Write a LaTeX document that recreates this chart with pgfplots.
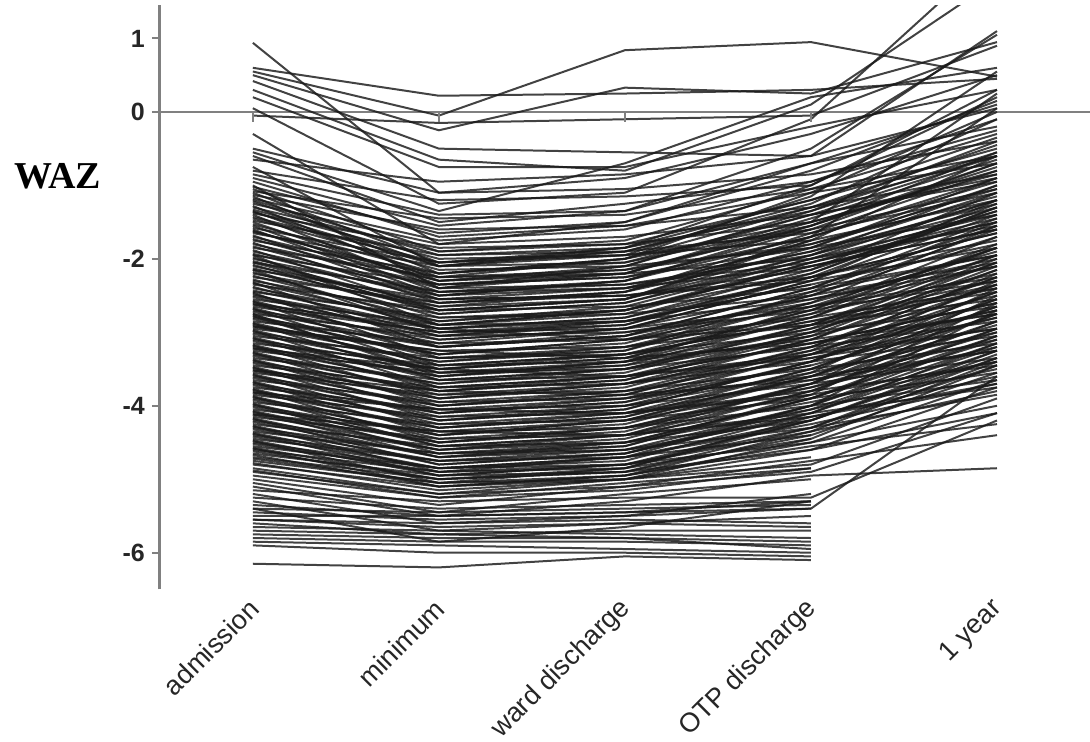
\documentclass[border=0pt]{standalone}
\usepackage{pgfplots}
\usepackage{pgfplotstable}
\pgfplotsset{compat=1.18}
\usepackage{fontspec}
\setmainfont{Liberation Sans}
\newfontfamily\timesfont{Liberation Serif}

% one row per child: admission, minimum, ward discharge, OTP discharge, 1 year
\pgfplotstableread{
a m w o y
0.94 -1.10 -0.90 -0.30 0.50
0.60 0.22 0.25 0.30 0.45
0.55 -0.05 0.84 0.95 0.48
0.50 -0.25 0.33 0.25 0.95
0.42 -0.50 -0.55 -0.60 1.10
0.30 -0.65 -0.80 0.10 1.80
0.20 -0.75 -0.75 -0.20 0.30
0.05 -1.25 -1.10 -0.10 2.20
-0.05 -0.15 -0.10 -0.05 0.90
-0.30 -1.80 -1.50 -0.70 0.10
-0.50 -1.10 -1.05 -0.85 -0.40
-0.55 -1.35 -0.70 0.20 0.60
-0.60 -1.50 -1.25 -0.95 -0.10
-0.75 -2.10 -1.90 -1.30 -0.60
-0.80 -1.20 -1.15 -1.00 0.30
-0.85 -1.40 -1.35 -0.70 -0.20
-0.95 -1.70 -1.55 -1.10 -0.70
-0.65 -0.95 -0.85 -0.60 0.05
-1.00 -2.40 -2.10 -1.40 -0.90
-0.90 -1.55 -1.35 -0.50 1.05
-1.36 -2.10 -1.95 -1.15 0.55
-1.62 -2.30 -2.20 -1.50 0.25
-2.05 -2.70 -2.55 -1.70 0.05
-1.02 -1.65 -1.50 -0.80 0.15
-1.05 -1.90 -1.80 -1.20 -0.35
-1.08 -1.45 -1.40 -1.05 -0.60
-1.10 -2.05 -1.85 -1.00 0.20
-1.13 -1.60 -1.55 -1.30 -0.85
-1.15 -2.20 -2.05 -1.55 -0.70
-1.18 -1.75 -1.60 -0.95 -0.25
-1.20 -1.95 -1.90 -1.65 -1.10
-1.22 -2.10 -1.85 -1.20 -0.50
-1.25 -1.80 -1.70 -1.40 -0.95
-1.28 -2.30 -2.15 -1.60 nan
-1.30 -1.90 -1.75 -1.05 -0.30
-1.33 -2.00 -1.95 -1.75 -1.20
-1.35 -2.25 -2.00 -1.30 -0.45
-1.38 -1.85 -1.80 -1.50 -0.80
-1.40 -2.40 -2.20 -1.45 -0.65
-1.43 -2.05 -1.90 -1.25 -0.10
-1.45 -2.15 -2.10 -1.85 -1.40
-1.48 -1.95 -1.85 -1.35 -0.55
-1.50 -2.35 -2.25 -1.70 -0.90
-1.53 -2.20 -2.00 -1.10 0.00
-1.55 -2.45 -2.35 -1.95 -1.30
-1.58 -2.05 -1.95 -1.60 -1.05
-1.60 -2.50 -2.30 -1.55 -0.75
-1.63 -2.25 -2.15 -1.80 -1.15
-1.65 -2.10 -2.05 -1.40 -0.60
-1.68 -2.55 -2.40 -1.90 -1.25
-1.70 -2.30 -2.10 -1.35 -0.40
-1.73 -2.40 -2.35 -2.05 -1.50
-1.75 -2.20 -2.00 -1.50 -0.85
-1.78 -2.60 -2.45 -1.75 nan
-1.80 -2.35 -2.25 -1.85 -1.00
-1.83 -2.50 -2.30 -1.60 -0.70
-1.85 -2.25 -2.20 -2.00 -1.55
-1.88 -2.70 -2.55 -1.95 -1.20
-1.90 -2.45 -2.30 -1.70 -0.95
-1.93 -2.55 -2.50 -2.15 -1.35
-1.95 -2.35 -2.20 -1.55 -0.55
-1.98 -2.75 -2.60 -2.00 -1.40
-2.00 -2.50 -2.40 -1.80 -1.05
-2.03 -2.65 -2.45 -1.65 -0.80
-2.05 -2.45 -2.40 -2.10 -1.60
-2.08 -2.80 -2.70 -2.20 -1.30
-2.10 -2.60 -2.45 -1.90 -1.10
-2.13 -2.70 -2.55 -1.75 -0.60
-2.15 -2.55 -2.50 -2.25 -1.75
-2.18 -2.90 -2.75 -2.05 -1.45
-2.20 -2.65 -2.55 -1.85 -0.90
-2.23 -2.85 -2.65 -2.00 -1.20
-2.25 -2.60 -2.50 -2.30 -1.85
-2.28 -2.95 -2.85 -2.35 nan
-2.30 -2.75 -2.60 -1.95 -1.00
-2.33 -2.90 -2.70 -2.10 -1.50
-2.35 -2.70 -2.65 -2.40 -1.95
-2.38 -3.05 -2.90 -2.20 -1.25
-2.40 -2.85 -2.70 -2.05 -1.35
-2.43 -2.95 -2.80 -2.25 -1.65
-2.45 -2.80 -2.75 -2.50 -2.05
-2.48 -3.10 -2.95 -2.30 -1.40
-2.50 -2.95 -2.80 -2.15 -1.10
-2.52 -3.05 -2.85 -2.35 -1.80
-2.55 -2.90 -2.85 -2.55 -2.10
-2.57 -3.20 -3.05 -2.40 -1.55
-2.60 -3.00 -2.90 -2.25 -1.30
-2.62 -3.15 -2.95 -2.45 -1.95
-2.65 -3.00 -2.95 -2.65 -2.25
-2.67 -3.30 -3.10 -2.50 -1.70
-2.70 -3.10 -2.95 -2.30 -1.20
-2.72 -3.20 -3.05 -2.55 -2.00
-2.75 -3.05 -3.00 -2.70 -2.30
-2.77 -3.35 -3.20 -2.60 nan
-2.80 -3.20 -3.05 -2.40 -1.45
-2.82 -3.30 -3.10 -2.65 -2.10
-2.85 -3.15 -3.10 -2.80 -2.40
-2.87 -3.45 -3.30 -2.70 -1.85
-2.90 -3.30 -3.15 -2.50 -1.60
-2.92 -3.40 -3.20 -2.75 -2.20
-2.95 -3.25 -3.20 -2.90 -2.55
-2.97 -3.55 -3.40 -2.80 -1.95
-3.00 -3.40 -3.25 -2.60 -1.55
-3.02 -3.50 -3.30 -2.85 -2.30
-3.05 -3.35 -3.30 -3.00 -2.65
-3.07 -3.65 -3.50 -2.90 -2.05
-3.10 -3.50 -3.35 -2.70 -1.70
-3.12 -3.60 -3.40 -2.95 -2.40
-3.15 -3.45 -3.40 -3.10 -2.75
-3.17 -3.75 -3.60 -3.00 -2.15
-3.20 -3.60 -3.45 -2.80 -1.85
-3.22 -3.70 -3.50 -3.05 nan
-3.25 -3.55 -3.50 -3.20 -2.85
-3.27 -3.85 -3.70 -3.10 -2.25
-3.30 -3.70 -3.55 -2.90 -1.95
-3.32 -3.80 -3.60 -3.15 -2.60
-3.35 -3.65 -3.60 -3.30 -2.95
-3.37 -3.95 -3.80 -3.20 -2.35
-3.40 -3.80 -3.65 -3.00 -2.05
-3.42 -3.90 -3.70 -3.25 -2.70
-3.45 -3.75 -3.70 -3.40 -3.05
-3.47 -4.05 -3.90 -3.30 -2.45
-3.50 -3.90 -3.75 -3.10 -2.15
-3.52 -4.00 -3.80 -3.35 -2.80
-3.55 -3.85 -3.80 -3.50 -3.15
-3.57 -4.15 -4.00 -3.40 -2.55
-3.60 -4.00 -3.85 -3.20 -2.25
-3.62 -4.10 -3.90 -3.45 nan
-3.65 -3.95 -3.90 -3.60 -3.25
-3.67 -4.25 -4.10 -3.50 -2.65
-3.70 -4.10 -3.95 -3.30 -2.35
-3.72 -4.20 -4.00 -3.55 -3.00
-3.75 -4.05 -4.00 -3.70 -3.35
-3.77 -4.35 -4.20 -3.60 -2.75
-3.80 -4.20 -4.05 -3.40 -2.45
-3.82 -4.30 -4.10 -3.65 -3.10
-3.85 -4.15 -4.10 -3.80 -3.45
-3.87 -4.45 -4.30 -3.70 -2.85
-3.90 -4.30 -4.15 -3.50 -2.55
-3.92 -4.40 -4.20 -3.75 -3.20
-3.95 -4.25 -4.20 -3.90 -3.55
-3.97 -4.55 -4.40 -3.80 -2.95
-4.00 -4.40 -4.25 -3.60 -2.65
-4.02 -4.50 -4.30 -3.85 nan
-4.05 -4.35 -4.30 -4.00 -3.65
-4.07 -4.60 -4.50 -3.90 -3.05
-4.10 -4.50 -4.35 -3.70 -2.75
-4.12 -4.60 -4.40 -3.95 -3.40
-4.15 -4.45 -4.40 -4.10 -3.75
-4.17 -4.70 -4.60 -4.00 -3.15
-4.20 -4.60 -4.45 -3.80 -2.85
-4.22 -4.70 -4.50 -4.05 -3.50
-4.25 -4.55 -4.50 -4.20 nan
-4.27 -4.80 -4.65 -4.10 -3.25
-4.30 -4.65 -4.55 -3.90 -2.95
-4.32 -4.75 -4.60 -4.15 -3.60
-4.35 -4.65 -4.60 -4.30 -3.85
-4.37 -4.85 -4.70 -4.20 -3.35
-4.40 -4.75 -4.65 -4.00 -3.05
-4.42 -4.85 -4.70 -4.25 -3.70
-4.45 -4.75 -4.70 -4.40 nan
-4.47 -4.95 -4.80 -4.30 -3.45
-4.50 -4.85 -4.75 -4.10 -3.15
-4.52 -4.90 -4.80 -4.35 -3.80
-4.55 -4.85 -4.80 -4.50 -4.00
-4.57 -5.00 -4.90 -4.40 -3.55
-4.60 -4.90 -4.85 -4.20 -3.25
-4.62 -5.00 -4.85 -4.45 nan
-4.65 -4.95 -4.90 -4.60 -4.10
-4.67 -5.10 -4.95 -4.50 -3.65
-4.70 -5.00 -4.90 -4.30 -3.35
-4.72 -5.05 -4.95 -4.55 -4.25
-4.75 -5.05 -5.00 -4.70 nan
-4.78 -5.15 -5.00 -4.60 -3.75
-4.80 -5.10 -5.00 -4.45 -3.45
-4.85 -5.20 -5.10 -4.75 -4.40
-4.88 -5.25 -5.15 -4.85 nan
-2.32 -3.20 -3.00 -2.60 -1.90
-2.46 -3.35 -3.25 -2.45 -1.50
-2.58 -3.45 -3.30 -2.85 -2.45
-2.68 -3.50 -3.35 -2.75 -1.80
-2.78 -3.55 -3.45 -3.05 -2.50
-2.88 -3.65 -3.50 -2.95 -2.00
-2.98 -3.75 -3.60 -3.15 -2.60
-3.08 -3.80 -3.65 -3.05 -2.10
-3.18 -3.90 -3.70 -3.30 -2.70
-3.28 -4.00 -3.85 -3.25 -2.20
-3.38 -4.10 -3.95 -3.45 -2.80
-3.48 -4.20 -4.05 -3.40 -2.30
-3.58 -4.30 -4.15 -3.60 -2.90
-3.68 -4.40 -4.20 -3.55 -2.40
-3.78 -4.50 -4.30 -3.75 -3.00
-3.88 -4.55 -4.40 -3.70 -2.50
-3.98 -4.65 -4.50 -3.90 -3.10
-4.08 -4.70 -4.55 -3.85 -2.60
-4.18 -4.80 -4.65 -4.05 -3.20
-4.28 -4.90 -4.70 -4.00 -2.70
-4.38 -4.95 -4.80 -4.20 -3.30
-4.48 -5.05 -4.85 -4.15 nan
-4.58 -5.10 -4.95 -4.35 -3.40
-2.62 -2.95 -3.10 -2.90 -2.35
-2.92 -3.25 -3.35 -3.15 -2.75
-3.22 -3.50 -3.60 -3.35 -2.95
-3.52 -3.80 -3.85 -3.65 -3.25
-3.82 -4.05 -4.10 -3.85 -3.40
-4.12 -4.35 -4.40 -4.15 -3.70
-1.95 -2.90 -2.70 -2.10 -1.60
-2.15 -3.00 -2.85 -2.25 -1.65
-2.75 -3.60 -3.40 -2.65 -1.85
-6.15 -6.20 -6.05 -6.10 nan
-5.90 -6.00 -6.00 -6.05 nan
-5.85 -5.90 -5.95 -6.00 nan
-5.80 -5.85 -5.85 -5.90 nan
-5.75 -5.80 -5.80 -5.85 nan
-5.65 -5.70 -5.75 -5.80 nan
-5.60 -5.75 -5.70 -5.70 nan
-5.55 -5.60 -5.55 -5.60 nan
-5.50 -5.50 -5.45 -5.40 -3.60
-5.45 -5.55 -5.50 -5.40 nan
-5.40 -5.45 -5.40 -5.35 nan
-5.35 -5.50 -5.45 -5.30 nan
-5.25 -5.40 -5.35 -5.30 nan
-5.20 -5.60 -5.50 -5.20 nan
-5.15 -5.30 -5.25 -5.25 -4.20
-5.10 -5.50 -5.30 -4.95 -4.85
-5.05 -5.45 -5.20 -5.00 nan
-5.00 -5.35 -5.10 -4.90 -4.10
-4.95 -5.25 -5.05 -4.85 nan
-5.30 -5.70 -5.60 -5.50 nan
-5.40 -5.85 -5.65 -5.30 nan
-4.90 -5.20 -5.00 -4.80 -3.90
-5.55 -5.65 -5.60 -5.65 nan
-5.70 -5.75 -5.80 -5.95 nan
}\waz

\begin{document}
\begin{tikzpicture}
\useasboundingbox (-80pt,-76pt) rectangle (465.5pt,295pt);
\pgfplotstablegetrowsof{\waz}
\pgfmathtruncatemacro{\lastrow}{\pgfplotsretval-1}
\begin{axis}[
  scale only axis, width=465.5pt, height=292.3pt,
  xmin=-0.5, xmax=4.5, ymin=-6.5, ymax=1.45,
  axis y line*=left, axis x line*=bottom,
  x axis line style={draw=none},
  y axis line style={-, draw=black!50, line width=1.4pt},
  tick align=outside, major tick length=4pt,
  ytick={-6,-4,-2,0,1}, yticklabels={-6,-4,-2,0,1},
  ytick style={draw=black!50, line width=1pt},
  yticklabel style={font=\fontsize{12.5}{14}\selectfont\bfseries, text=black!85},
  xtick={0,1,2,3,4},
  xticklabels={admission,minimum,ward discharge,OTP discharge,1 year},
  xtick style={draw=none},
  xticklabel style={font=\fontsize{13.5}{16}\selectfont, text=black!85, xshift=3pt, yshift=-1pt, rotate=45, anchor=east},
  spag/.style={black!90, line width=1pt, opacity=0.82, mark=none},
]
\addplot[black!50, line width=1.4pt, forget plot] coordinates {(-0.5,0) (4.5,0)};
\pgfplotsinvokeforeach{0,...,\lastrow}{%
  \pgfplotstablegetelem{#1}{a}\of\waz \edef\va{\pgfplotsretval}%
  \pgfplotstablegetelem{#1}{m}\of\waz \edef\vm{\pgfplotsretval}%
  \pgfplotstablegetelem{#1}{w}\of\waz \edef\vw{\pgfplotsretval}%
  \pgfplotstablegetelem{#1}{o}\of\waz \edef\vo{\pgfplotsretval}%
  \pgfplotstablegetelem{#1}{y}\of\waz \edef\vy{\pgfplotsretval}%
  \edef\cmd{\noexpand\addplot[spag] coordinates {(0,\va) (1,\vm) (2,\vw) (3,\vo) (4,\vy)};}\cmd
}
\pgfplotsinvokeforeach{0,1,2,3}{\draw[black!50, line width=1pt] ([yshift=-5pt]axis cs:#1,0) -- (axis cs:#1,0);}
\end{axis}
\node[font=\timesfont\bfseries\fontsize{19}{21}\selectfont, anchor=west, inner sep=0pt]
  at (-73pt,206.6pt) {WAZ};
\end{tikzpicture}
\end{document}
